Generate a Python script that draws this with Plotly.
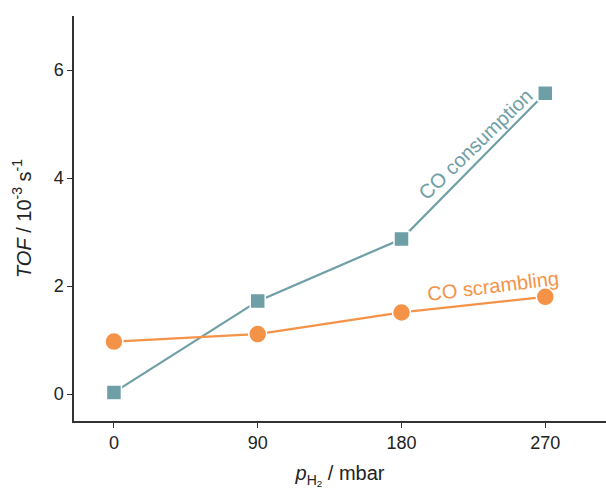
import plotly.graph_objects as go

pressure = [0, 90, 180, 270]
co_consumption = [0.03, 1.72, 2.87, 5.57]
co_scrambling = [0.97, 1.11, 1.51, 1.80]
x_ticks = [0, 90, 180, 270]
y_ticks = [0, 2, 4, 6]

teal = "#6E9EA6"
orange = "#F49347"
font_family = "Liberation Sans, Arial, sans-serif"

fig = go.Figure()
fig.add_trace(go.Scatter(
    x=pressure, y=co_consumption, mode="lines+markers",
    line=dict(color=teal, width=2.2),
    marker=dict(symbol="square", size=15, color=teal, line=dict(color="white", width=1.5)),
    showlegend=False, name="CO consumption"))
fig.add_trace(go.Scatter(
    x=pressure, y=co_scrambling, mode="lines+markers",
    line=dict(color=orange, width=2.2),
    marker=dict(symbol="circle", size=18, color=orange, line=dict(color="white", width=1.5)),
    showlegend=False, name="CO scrambling"))

fig.add_annotation(x=226.5, y=4.63, text="CO consumption", showarrow=False,
                   textangle=-44, font=dict(size=20, color=teal, family=font_family))
fig.add_annotation(x=237, y=2.0, text="CO scrambling", showarrow=False,
                   textangle=-7, font=dict(size=20, color=orange, family=font_family))

axis_common = dict(showgrid=False, zeroline=False, showline=True, linecolor="#333333",
                   linewidth=1.5, ticks="outside", ticklen=5, tickwidth=1.2, tickcolor="#333333",
                   tickfont=dict(size=18, color="#222222", family=font_family))

fig.update_xaxes(range=[-25, 308], tickvals=x_ticks, ticktext=[str(v) for v in x_ticks],
                 title=dict(text="<i>p</i><sub>H<sub>2</sub></sub> / mbar", standoff=14,
                            font=dict(size=20, color="#222222", family=font_family)),
                 **axis_common)
fig.update_yaxes(range=[-0.5, 7.0], tickvals=y_ticks, ticktext=[str(v) for v in y_ticks],
                 title=dict(text="<i>TOF</i> / 10<sup>-3</sup> s<sup>-1</sup>", standoff=17,
                            font=dict(size=20, color="#222222", family=font_family)),
                 **axis_common)

fig.update_layout(width=606, height=492, margin=dict(l=74, r=0, t=16, b=71),
                  plot_bgcolor="white", paper_bgcolor="white")

fig.write_html("out.html")
